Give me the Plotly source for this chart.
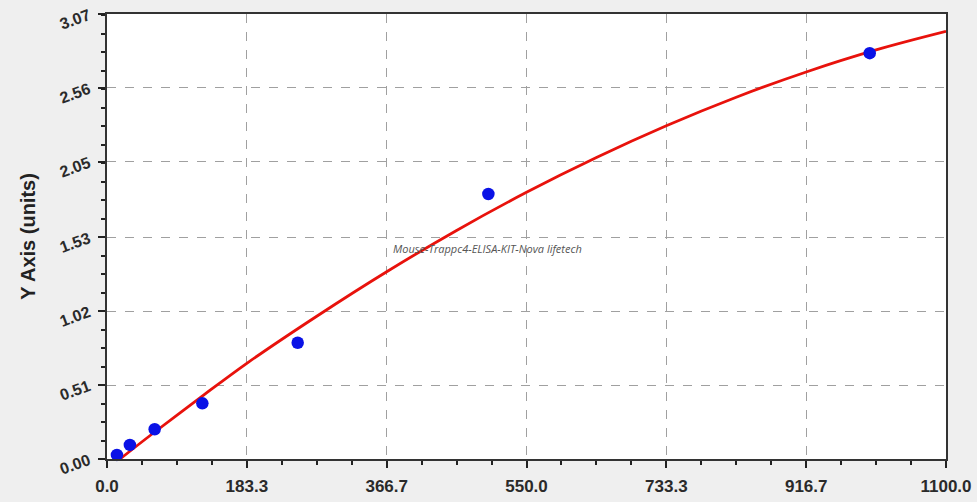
import plotly.graph_objects as go

# Standard points
std_x = [13, 30, 62.5, 125, 250, 500, 1000]
std_y = [0.028, 0.097, 0.205, 0.384, 0.802, 1.828, 2.80]

# Fitted curve
curve_x = [17, 60, 124, 183.3, 275, 366.7, 458.3, 550, 641.7, 733.3, 825, 916.7, 1008.3, 1100]
curve_y = [0.0, 0.176, 0.43, 0.66, 0.985, 1.292, 1.577, 1.840, 2.080, 2.299, 2.496, 2.670, 2.822, 2.950]

x_ticks = [0.0, 183.3, 366.7, 550.0, 733.3, 916.7, 1100.0]
x_ticklabels = ["0.0", "183.3", "366.7", "550.0", "733.3", "916.7", "1100.0"]
y_ticks = [0.0, 0.51, 1.02, 1.53, 2.05, 2.56, 3.07]
y_ticklabels = ["0.00", "0.51", "1.02", "1.53", "2.05", "2.56", "3.07"]

fig = go.Figure()
fig.add_trace(go.Scatter(x=curve_x, y=curve_y, mode="lines",
                         line=dict(color="#e8120c", width=2.8, shape="spline"),
                         hoverinfo="skip", showlegend=False, cliponaxis=True))
fig.add_trace(go.Scatter(x=std_x, y=std_y, mode="markers",
                         marker=dict(color="#0a12e6", size=12.5, line=dict(width=0)),
                         showlegend=False, cliponaxis=False))

fig.add_annotation(x=0.454, y=0.472, xref="paper", yref="paper",
                   text="<i>Mouse-Trappc4-ELISA-KIT-Nova lifetech</i>", showarrow=False,
                   font=dict(family="Open Sans, Liberation Sans, sans-serif", size=11, color="#555555"))

x_font = dict(family="Liberation Sans, Arial, sans-serif", size=17, color="#2a2a2a")
y_font = dict(family="Liberation Sans, Arial, sans-serif", size=16, color="#2a2a2a")
fig.update_layout(
    width=977, height=502,
    margin=dict(l=107, r=31, t=14, b=43),
    paper_bgcolor="#efefef", plot_bgcolor="#ffffff",
    font=x_font,
    xaxis=dict(range=[0, 1100], tickvals=x_ticks, ticktext=["<b>%s</b>" % t for t in x_ticklabels],
               showgrid=True, gridcolor="#a0a0a0", griddash="dash", gridwidth=1,
               ticks="outside", ticklen=7, tickwidth=1.5, tickcolor="#222222",
               minor=dict(dtick=45.8333, tick0=0, ticks="outside", ticklen=4, tickcolor="#222222", showgrid=False),
               showline=True, linecolor="#333333", linewidth=2, mirror=True, zeroline=False,
               tickfont=x_font, automargin=False, ticklabelstandoff=4),
    yaxis=dict(range=[0, 3.07], tickvals=y_ticks, ticktext=["<b>%s</b>" % t for t in y_ticklabels],
               showgrid=True, gridcolor="#a0a0a0", griddash="dash", gridwidth=1,
               ticks="outside", ticklen=7, tickwidth=1.5, tickcolor="#222222", tickangle=-20,
               minor=dict(dtick=0.1275, tick0=0, ticks="outside", ticklen=4, tickcolor="#222222", showgrid=False),
               showline=True, linecolor="#333333", linewidth=2, mirror=True, zeroline=False,
               tickfont=y_font, automargin=False, ticklabelstandoff=6,
               title=dict(text="<b>Y Axis (units)</b>", font=dict(family="Liberation Sans, Arial, sans-serif", size=20, color="#222222"), standoff=16)),
)

fig.write_html("out.html", config={"displayModeBar": False},
               post_script="document.body.style.margin='0';document.body.style.background='#efefef';")
